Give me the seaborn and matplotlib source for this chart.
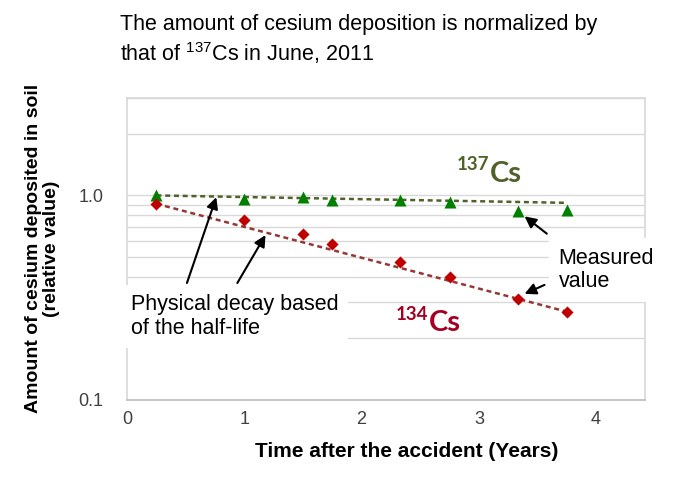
import numpy as np
import pandas as pd
import seaborn as sns
import matplotlib.pyplot as plt
from matplotlib.ticker import FixedLocator, FixedFormatter, LogLocator, NullFormatter

# values
years = [0.25, 1.0, 1.5, 1.75, 2.33, 2.75, 3.33, 3.75]
cs137_measured = [1.0, 0.96, 0.98, 0.945, 0.955, 0.93, 0.84, 0.85]
cs134_measured = [0.91, 0.76, 0.65, 0.58, 0.47, 0.40, 0.31, 0.27]
decay_years = [0.25, 3.75]
cs137_decay = [1.0, 0.92]
cs134_decay = [0.91, 0.27]
y_ticks = [0.1, 1.0]
y_tick_labels = ['0.1', '1.0']
x_ticks = [0, 1, 2, 3, 4]

sns.set_theme(style='white')
plt.rcParams['font.family'] = ['Liberation Sans', 'DejaVu Sans']
plt.rcParams['mathtext.fontset'] = 'custom'
plt.rcParams['mathtext.rm'] = 'Liberation Sans'
plt.rcParams['mathtext.default'] = 'regular'
plt.rcParams['text.color'] = 'black'
plt.rcParams['axes.labelcolor'] = 'black'

meas = pd.DataFrame({'year': years, 'cs137': cs137_measured, 'cs134': cs134_measured})
decay = pd.DataFrame({'year': decay_years, 'cs137': cs137_decay, 'cs134': cs134_decay})

fig = plt.figure(figsize=(6.8, 4.8), dpi=100)
ax = fig.add_axes([0.187, 0.167, 0.762, 0.629])

green_line = '#4f6228'
green_mark = '#008000'
red_line = '#953735'
red_mark = '#c00000'

sns.lineplot(data=decay, x='year', y='cs137', ax=ax, color=green_line, lw=1.8,
             linestyle=(0, (2, 1.5)), zorder=3)
sns.lineplot(data=decay, x='year', y='cs134', ax=ax, color=red_line, lw=1.8,
             linestyle=(0, (2, 1.5)), zorder=3)
sns.scatterplot(data=meas, x='year', y='cs137', ax=ax, marker='^', s=75,
                color=green_mark, edgecolor=green_mark, linewidth=0, zorder=4)
sns.scatterplot(data=meas, x='year', y='cs134', ax=ax, marker='D', s=38,
                color=red_mark, edgecolor=red_mark, linewidth=0, zorder=4)

ax.set_yscale('log')
ax.set_ylim(0.1, 3)
ax.set_xlim(0, 4.42)
ax.yaxis.set_major_locator(FixedLocator(y_ticks))
ax.yaxis.set_major_formatter(FixedFormatter(y_tick_labels))
ax.yaxis.set_minor_locator(LogLocator(base=10, subs=np.arange(2, 10)))
ax.yaxis.set_minor_formatter(NullFormatter())
ax.set_xticks(x_ticks)
ax.tick_params(which='both', length=0, labelsize=13, labelcolor='#404040')
ax.tick_params(axis='y', pad=17)
ax.tick_params(axis='x', pad=8)
ax.grid(which='both', axis='y', color='#d9d9d9', lw=1)
ax.grid(False, axis='x')
for side in ['left', 'top', 'right']:
    ax.spines[side].set_color('#d9d9d9')
ax.spines['bottom'].set_color('#bfbfbf')

ax.set_xlabel('Time after the accident (Years)', fontsize=15, fontweight='bold')
ax.xaxis.set_label_coords(0.54, -0.14)
ax.set_ylabel('Amount of cesium deposited in soil\n(relative value)', fontsize=14,
              fontweight='bold', linespacing=1.05)
ax.yaxis.set_label_coords(-0.13, 0.5)

fig.text(0.176, 0.948, 'The amount of cesium deposition is normalized by', fontsize=15.5,
         va='center')
fig.text(0.176, 0.889, 'that of $^{137}$Cs in June, 2011', fontsize=15.5, va='center')

# isotope labels
ax.text(3.09, 1.17, 'Cs', fontsize=21, fontweight='bold', color=green_line,
        family=['Lato', 'DejaVu Sans'], ha='left', va='baseline')
ax.annotate('137', (3.09, 1.17), xytext=(0, 8), textcoords='offset points', fontsize=13.5,
            fontweight='bold', color=green_line, family=['Lato', 'DejaVu Sans'],
            ha='right', va='baseline')
ax.text(2.57, 0.216, 'Cs', fontsize=21, fontweight='bold', color='#a50021',
        family=['Lato', 'DejaVu Sans'], ha='left', va='baseline')
ax.annotate('134', (2.57, 0.216), xytext=(0, 8), textcoords='offset points', fontsize=13.5,
            fontweight='bold', color='#a50021', family=['Lato', 'DejaVu Sans'],
            ha='right', va='baseline')

arrow = dict(arrowstyle='-|>', color='black', lw=1.5, mutation_scale=17, shrinkA=0, shrinkB=0)

ax.text(0.03, 0.256, 'Physical decay based\nof the half-life', fontsize=15.5, ha='left',
        va='center', linespacing=1.15, zorder=5,
        bbox=dict(boxstyle='square,pad=0.45', facecolor='white', edgecolor='none'))
ax.annotate('', xy=(0.76, 0.98), xytext=(0.51, 0.373), arrowprops=arrow, zorder=6)
ax.annotate('', xy=(1.18, 0.64), xytext=(0.94, 0.373), arrowprops=arrow, zorder=6)

ax.text(3.68, 0.432, 'Measured\nvalue', fontsize=15.5, ha='left', va='center',
        linespacing=1.15, zorder=5, clip_on=False,
        bbox=dict(boxstyle='square,pad=0.45', facecolor='white', edgecolor='none'))
ax.annotate('', xy=(3.39, 0.79), xytext=(3.58, 0.65), arrowprops=arrow, zorder=6)
ax.annotate('', xy=(3.39, 0.33), xytext=(3.56, 0.365), arrowprops=arrow, zorder=6)

fig.savefig('out.png', dpi=100)
